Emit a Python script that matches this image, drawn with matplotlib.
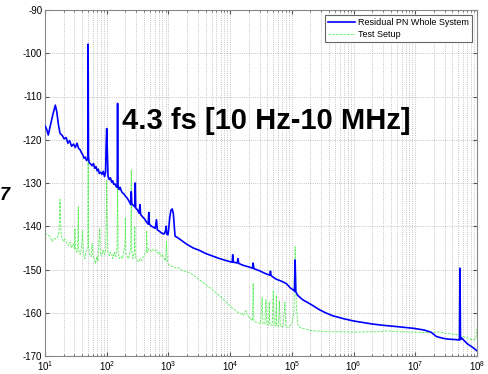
import numpy as np
import matplotlib
matplotlib.use('Agg')
import matplotlib.pyplot as plt
from matplotlib.ticker import NullFormatter

plt.rcParams['font.family'] = ['Liberation Sans', 'DejaVu Sans']
plt.rcParams['axes.unicode_minus'] = False

# Residual PN whole system (blue)
f_sys = [10, 10.6, 11.3, 12.3, 13.5, 14.7, 15.5, 16.5, 17.5, 19, 20.5, 22, 23.5, 25, 27, 29, 31, 33,
         35, 37, 39, 41, 43, 45, 47, 49.3, 50, 50.7, 52, 55, 58, 61, 64, 67, 70, 73, 76, 80, 84, 88,
         92, 96, 98, 100, 102, 105, 110, 115, 120, 125, 130, 136, 142, 148, 150, 152, 158, 165, 172,
         180, 190, 200, 215, 230, 245, 250, 255, 270, 285, 290, 295, 315, 335, 345, 355, 380, 410,
         440, 470, 480, 490, 530, 570, 610, 640, 660, 720, 780, 850, 900, 920, 940, 980, 1000, 1050,
         1100, 1150, 1200, 1250, 1280, 1400, 1600, 2000, 2500, 3200, 4000, 5000, 6500, 8000, 1e4,
         1.08e4, 1.1e4, 1.13e4, 1.3e4, 1.34e4, 1.38e4, 1.6e4, 2e4, 2.3e4, 2.36e4, 2.42e4, 3e4,
         3.8e4, 4.4e4, 4.5e4, 4.6e4, 5.5e4, 6.5e4, 7.5e4, 8.2e4, 9.5e4, 1.05e5, 1.1e5, 1.13e5,
         1.16e5, 1.25e5, 1.5e5, 2e5, 2.8e5, 3.5e5, 4.6e5, 7e5, 1e6, 1.5e6, 2e6, 3e6, 5e6, 9.4e6,
         1.4e7, 1.8e7, 2.2e7, 2.8e7, 3.4e7, 4.5e7, 5.2e7, 5.3e7, 5.4e7, 5.6e7, 7e7, 8.5e7, 1e8]
pn_sys = [-116.8, -117.5, -118.9, -116.5, -114, -112, -113.5, -116.5, -118.5, -119, -119.8, -119.5,
          -120.8, -120.2, -121.5, -121, -121.8, -120.8, -122, -122.3, -123, -123.5, -124.3, -124,
          -124.8, -124.5, -97.9, -124, -125.3, -125.6, -126, -125.5, -126.6, -126.2, -127.2, -126.8,
          -127.8, -127.5, -128, -127.3, -128.5, -127.5, -121, -117.4, -122, -128.5, -129.2, -128.8,
          -129.8, -129.5, -130.3, -130.2, -130.8, -131, -111.6, -130.5, -131.5, -131, -131.8,
          -132.3, -132.5, -133, -133.5, -134.2, -135, -132, -134.8, -135.2, -135.5, -130, -135.8,
          -136.2, -137, -135, -137.3, -137.8, -138.3, -139, -139.5, -136.8, -139.5, -140, -140.2,
          -140.5, -138.5, -140.8, -141.2, -141.6, -141.8, -141, -140, -141.8, -142, -141.3, -138,
          -136.3, -136, -137, -140.5, -142.3, -142.6, -143.2, -144.2, -145, -145.6, -146.3, -146.8,
          -147.4, -147.8, -148.2, -148.3, -146.6, -148.3, -148.5, -147.5, -148.6, -149, -149.4,
          -149.7, -148.5, -149.8, -150.3, -151, -151.3, -150.4, -151.4, -152.2, -152.6, -153,
          -153.3, -154.3, -154.7, -155, -147.8, -155.2, -156, -157, -158, -159.3, -160, -160.7,
          -161.4, -161.9, -162.3, -162.6, -162.9, -163.2, -163.6, -164, -164.5, -165.5, -165.9,
          -166.1, -166.2, -166.3, -149.7, -166.2, -165.8, -167.2, -168, -168.8]

# Test setup (green)
f_test = [10, 11, 12, 13, 14, 15, 16, 16.8, 17.5, 18.2, 19, 20, 21, 22.5, 24, 25.5, 27, 28.5, 30,
          30.6, 31.2, 33, 34, 34.6, 35.2, 37, 39, 40.5, 42, 44, 46, 48, 49.5, 50, 50.5, 53, 56, 58,
          60, 63, 66, 69, 72, 75, 77, 79, 83, 87, 92, 96, 98.5, 100, 101.5, 105, 110, 115, 120, 125,
          132, 140, 147, 150, 153, 160, 170, 180, 190, 198, 200, 205, 215, 225, 235, 245, 250, 255,
          265, 280, 285, 290, 310, 330, 350, 370, 390, 420, 440, 445, 452, 480, 520, 560, 600, 640,
          680, 720, 760, 800, 850, 900, 930, 960, 1000, 1100, 1200, 1350, 1500, 1700, 2000, 2500,
          3200, 4000, 5000, 6000, 7500, 9000, 1.1e4, 1.3e4, 1.5e4, 1.65e4, 1.8e4, 1.9e4, 2.1e4,
          2.3e4, 2.36e4, 2.42e4, 2.8e4, 3.1e4, 3.3e4, 3.4e4, 3.65e4, 3.8e4, 3.95e4, 4.2e4, 4.3e4,
          4.4e4, 4.8e4, 5e4, 5.2e4, 5.5e4, 5.6e4, 5.7e4, 6.1e4, 6.3e4, 6.5e4, 7.2e4, 7.7e4, 8e4,
          8.8e4, 9.2e4, 1e5, 1.08e5, 1.13e5, 1.18e5, 1.22e5, 1.26e5, 1.4e5, 1.5e5, 2e5, 3e5, 4.6e5,
          7e5, 1e6, 1.6e6, 2.5e6, 3.5e6, 5.6e6, 1e7, 1.9e7, 2.5e7, 3.2e7, 4.5e7, 5.9e7, 7.5e7,
          8.7e7, 9.5e7, 1e8]
pn_test = [-141.6, -142, -142.3, -143.5, -142.8, -143, -142.5, -141.5, -133.8, -142, -142.8, -143.5,
           -143, -143.8, -144.5, -143.7, -145, -144, -145.2, -140.5, -145, -146, -144, -135.5,
           -145.5, -146.5, -145, -141, -146.3, -147.5, -146, -145.5, -145, -124, -144.5, -146.5,
           -147, -144, -146.8, -147.5, -148.6, -147, -148, -143, -140.5, -146.5, -147, -145.5,
           -146.5, -146, -138, -129.3, -139, -146, -146.8, -146, -146.3, -147.5, -146, -147, -145,
           -127.8, -146, -147.5, -147, -147.5, -145.5, -144, -138, -146.5, -147, -147.5, -146.5,
           -145, -127, -146, -147.5, -146, -140, -147, -148, -148.2, -147.5, -148, -147, -146.3,
           -145.5, -141, -146, -145.2, -145.8, -145.3, -145.8, -145.5, -146.3, -146, -147, -146.5,
           -147.5, -148, -143.5, -148.2, -148.8, -149.2, -149.3, -149.8, -149.6, -150.3, -150.5,
           -151.2, -152.4, -153.5, -154.5, -155.5, -156.7, -157.8, -159, -159.8, -160.2, -160.6,
           -159.5, -160.5, -161.3, -161.8, -153.2, -162, -162.3, -162.5, -156.5, -162.5, -162.6,
           -157, -162.7, -162.8, -157.5, -162.8, -162.9, -154.8, -163, -163, -156, -163.1, -163.1,
           -157.3, -163.2, -163.2, -157.5, -163.3, -163.3, -163.2, -162.5, -160, -144.7, -158,
           -161, -163, -163.5, -163.6, -164.1, -164.3, -164.4, -164.4, -164.5, -164.4, -164.4,
           -164.2, -164.4, -164.5, -164.6, -164.4, -164.8, -165, -165.5, -166, -166.3, -166,
           -163.6]

fig = plt.figure(figsize=(4.88, 3.74), dpi=100)
ax = fig.add_axes([45 / 488, 18 / 374, 432 / 488, 346 / 374])

ax.semilogx(f_sys, pn_sys, color='#0000ff', lw=1.2, label='Residual PN Whole System', zorder=3)
ax.semilogx(f_test, pn_test, color='#55ee55', lw=0.6, ls='--', dashes=(3, 1.5),
            label='Test Setup', zorder=2)

ax.set_xlim(10, 1e8)
ax.set_ylim(-170, -90)
ax.set_yticks(np.arange(-170, -89, 10))
ax.xaxis.set_minor_formatter(NullFormatter())
ax.grid(True, which='major', ls=':', color='#b0b0b0', lw=0.6)
ax.grid(True, which='minor', axis='x', ls=':', color='#b0b0b0', lw=0.6)
ax.tick_params(which='both', direction='in', labelsize=7, length=3, color='#555555',
               top=True, right=True, pad=2)
ax.tick_params(which='minor', length=1.5)
for s in ax.spines.values():
    s.set_color('#888888')
    s.set_linewidth(0.8)

leg = ax.legend(loc='upper right', fontsize=6.5, fancybox=False, framealpha=1,
                edgecolor='#666666', handlelength=3, borderpad=0.3, labelspacing=0.3,
                handletextpad=0.3, borderaxespad=0.6)
leg.get_frame().set_linewidth(0.8)

ax.text(177, -115.6, '4.3 fs [10 Hz-10 MHz]', fontsize=21, fontweight='bold',
        ha='left', va='center', zorder=5)
fig.text(0.0, 0.478, '7', fontsize=13, fontweight='bold', style='italic', va='center')

fig.savefig('out.png', dpi=100)
